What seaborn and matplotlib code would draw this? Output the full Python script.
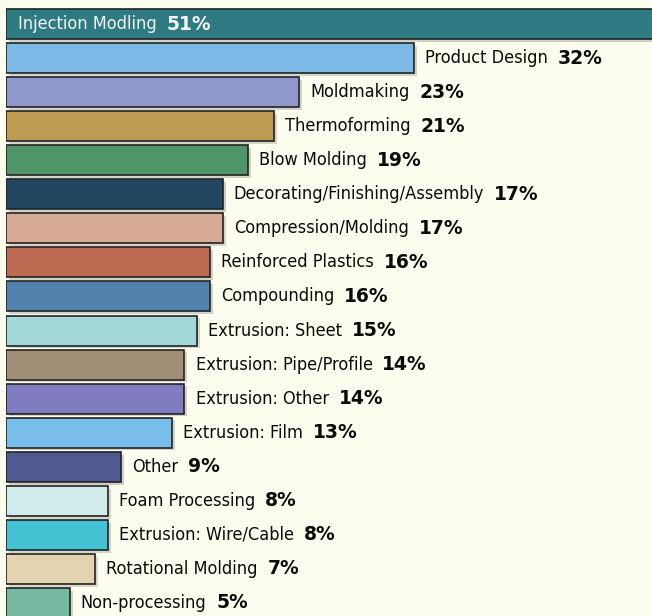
import matplotlib
matplotlib.use('Agg')
import matplotlib.pyplot as plt
import matplotlib.patheffects as pe
import seaborn as sns
import pandas as pd

categories = ['Injection Modling', 'Product Design', 'Moldmaking', 'Thermoforming',
              'Blow Molding', 'Decorating/Finishing/Assembly', 'Compression/Molding',
              'Reinforced Plastics', 'Compounding', 'Extrusion: Sheet',
              'Extrusion: Pipe/Profile', 'Extrusion: Other', 'Extrusion: Film', 'Other',
              'Foam Processing', 'Extrusion: Wire/Cable', 'Rotational Molding', 'Non-processing']
percents = [51, 32, 23, 21, 19, 17, 17, 16, 16, 15, 14, 14, 13, 9, 8, 8, 7, 5]
colors = ['#2E7B84', '#7DB9E6', '#8F97CB', '#BE9B53', '#4E9568', '#234761', '#D7AA98',
          '#BE6B54', '#5082AD', '#A2D9D8', '#A08F76', '#7F7DC0', '#79BDEA', '#4F5A93',
          '#D2ECEE', '#45C2D2', '#E3D3B0', '#76B8A0']

bg = '#FDFDEF'
df = pd.DataFrame({'category': categories, 'percent': percents})

sns.set_style('white')
fig = plt.figure(figsize=(6.52, 6.16), dpi=100, facecolor=bg)
ax = fig.add_axes([6 / 652, -4 / 616, 646 / 652, 613 / 616])
ax.set_facecolor(bg)

sns.barplot(data=df, x='percent', y='category', hue='category', palette=colors,
            orient='h', width=0.88, saturation=1, edgecolor='#222222', linewidth=1.2,
            legend=False, ax=ax)

for p in ax.patches:
    p.set_path_effects([pe.SimplePatchShadow(offset=(2, -2), alpha=0.2), pe.Normal()])

ax.set_xlim(0, 50.67)
ax.set_ylim(len(categories) - 0.5, -0.5)
ax.axis('off')

for i, (cat, val) in enumerate(zip(categories, percents)):
    inside = i == 0
    col = '#F4F4F4' if inside else '#0A0A0A'
    x = 0 if inside else val
    t = ax.annotate(cat, xy=(x, i), xytext=(9 if inside else 8, 0),
                    textcoords='offset points', va='center', ha='left',
                    fontsize=13, color=col, family='DejaVu Sans', fontstretch='condensed')
    ax.annotate(f'{val}%', xy=(1, 0.5), xycoords=t, xytext=(7, 0),
                textcoords='offset points', va='center', ha='left',
                fontsize=13.5, fontweight='bold', color=col, family='DejaVu Sans')

fig.savefig('out.png', dpi=100, facecolor=bg)
